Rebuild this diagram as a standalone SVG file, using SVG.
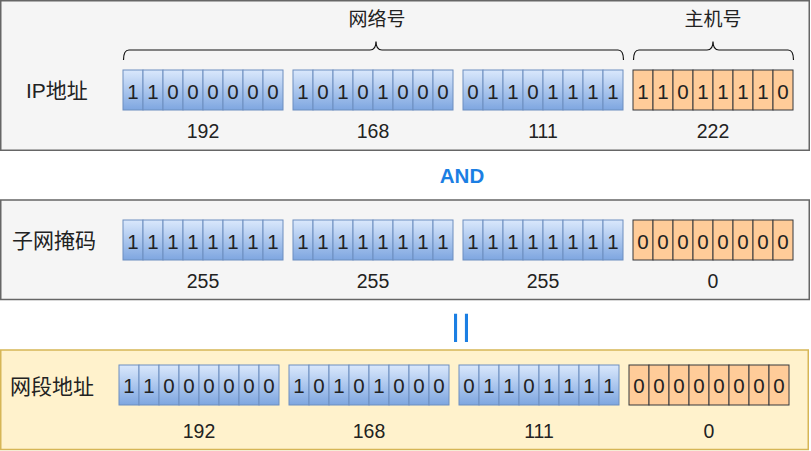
<svg xmlns="http://www.w3.org/2000/svg" width="811" height="451" viewBox="0 0 811 451">
<defs>
<linearGradient id="gb" x1="0" y1="0" x2="0" y2="1">
<stop offset="0" stop-color="#dae8fc"/>
<stop offset="1" stop-color="#7ea6e0"/>
</linearGradient>
<style>
.panel{fill:#f5f5f5;stroke:#666666;stroke-width:1.5}
.panelY{fill:#fff2cc;stroke:#d6b656;stroke-width:1.5}
.b rect{fill:url(#gb);stroke:#6c8ebf;stroke-width:1}
.o rect{fill:#ffcc99;stroke:#36393d;stroke-width:1}
.b text,.o text{font-family:"Liberation Sans",Arial,sans-serif;font-size:20.5px;fill:#222;text-anchor:middle}
.num{font-family:"Liberation Sans",Arial,sans-serif;font-size:19.5px;fill:#222;text-anchor:middle}
.lbl{font-family:"Liberation Sans","Noto Sans CJK SC",sans-serif;font-size:21px;fill:#222}
.cap{font-family:"Liberation Sans","Noto Sans CJK SC",sans-serif;font-size:19px;fill:#222;text-anchor:middle}
.op{font-family:"Liberation Sans",Arial,sans-serif;fill:#1b7fe3;text-anchor:middle}
.brace{fill:none;stroke:#111;stroke-width:1.2}
</style>
</defs>

<g id="panel-ip"><rect class="panel" x="0.75" y="0.75" width="808.5" height="149.5"/></g>
<g id="panel-mask"><rect class="panel" x="0.75" y="200" width="808.5" height="99.5"/></g>
<g id="panel-net"><rect class="panelY" x="0.75" y="350" width="807.5" height="99.5"/></g>

<g id="labels">
<text class="lbl" x="26" y="98">IP地址</text>
<text class="lbl" x="12" y="248">子网掩码</text>
<text class="lbl" x="10" y="394">网段地址</text>
<text class="cap" x="377" y="26">网络号</text>
<text class="cap" x="713" y="26">主机号</text>
</g>

<g id="braces">
<path class="brace" d="M123.5,60 Q123.5,50 129,50 H370 Q376,50 376,41.5 Q376,50 382,50 H618 Q623.5,50 623.5,60"/>
<path class="brace" d="M633.5,60 Q633.5,50 639,50 H707 Q713,50 713,41.5 Q713,50 719,50 H788 Q793.5,50 793.5,60"/>
</g>

<g id="ip-oct1" class="b" transform="translate(123,70)">
<rect x="0" width="20" height="40"/><rect x="20" width="20" height="40"/><rect x="40" width="20" height="40"/><rect x="60" width="20" height="40"/><rect x="80" width="20" height="40"/><rect x="100" width="20" height="40"/><rect x="120" width="20" height="40"/><rect x="140" width="20" height="40"/>
<text x="10" y="29">1</text><text x="30" y="29">1</text><text x="50" y="29">0</text><text x="70" y="29">0</text><text x="90" y="29">0</text><text x="110" y="29">0</text><text x="130" y="29">0</text><text x="150" y="29">0</text>
</g>
<g id="ip-oct2" class="b" transform="translate(293,70)">
<rect x="0" width="20" height="40"/><rect x="20" width="20" height="40"/><rect x="40" width="20" height="40"/><rect x="60" width="20" height="40"/><rect x="80" width="20" height="40"/><rect x="100" width="20" height="40"/><rect x="120" width="20" height="40"/><rect x="140" width="20" height="40"/>
<text x="10" y="29">1</text><text x="30" y="29">0</text><text x="50" y="29">1</text><text x="70" y="29">0</text><text x="90" y="29">1</text><text x="110" y="29">0</text><text x="130" y="29">0</text><text x="150" y="29">0</text>
</g>
<g id="ip-oct3" class="b" transform="translate(463,70)">
<rect x="0" width="20" height="40"/><rect x="20" width="20" height="40"/><rect x="40" width="20" height="40"/><rect x="60" width="20" height="40"/><rect x="80" width="20" height="40"/><rect x="100" width="20" height="40"/><rect x="120" width="20" height="40"/><rect x="140" width="20" height="40"/>
<text x="10" y="29">0</text><text x="30" y="29">1</text><text x="50" y="29">1</text><text x="70" y="29">0</text><text x="90" y="29">1</text><text x="110" y="29">1</text><text x="130" y="29">1</text><text x="150" y="29">1</text>
</g>
<g id="ip-oct4" class="o" transform="translate(633,70)">
<rect x="0" width="20" height="40"/><rect x="20" width="20" height="40"/><rect x="40" width="20" height="40"/><rect x="60" width="20" height="40"/><rect x="80" width="20" height="40"/><rect x="100" width="20" height="40"/><rect x="120" width="20" height="40"/><rect x="140" width="20" height="40"/>
<text x="10" y="29">1</text><text x="30" y="29">1</text><text x="50" y="29">0</text><text x="70" y="29">1</text><text x="90" y="29">1</text><text x="110" y="29">1</text><text x="130" y="29">1</text><text x="150" y="29">0</text>
</g>
<g id="ip-nums">
<text class="num" x="203" y="138">192</text><text class="num" x="373" y="138">168</text><text class="num" x="543" y="138">111</text><text class="num" x="713" y="138">222</text>
</g>

<g id="op-and"><text class="op" x="462" y="183" font-size="20.5" font-weight="bold">AND</text></g>

<g id="mask-oct1" class="b" transform="translate(123,220)">
<rect x="0" width="20" height="40"/><rect x="20" width="20" height="40"/><rect x="40" width="20" height="40"/><rect x="60" width="20" height="40"/><rect x="80" width="20" height="40"/><rect x="100" width="20" height="40"/><rect x="120" width="20" height="40"/><rect x="140" width="20" height="40"/>
<text x="10" y="29">1</text><text x="30" y="29">1</text><text x="50" y="29">1</text><text x="70" y="29">1</text><text x="90" y="29">1</text><text x="110" y="29">1</text><text x="130" y="29">1</text><text x="150" y="29">1</text>
</g>
<g id="mask-oct2" class="b" transform="translate(293,220)">
<rect x="0" width="20" height="40"/><rect x="20" width="20" height="40"/><rect x="40" width="20" height="40"/><rect x="60" width="20" height="40"/><rect x="80" width="20" height="40"/><rect x="100" width="20" height="40"/><rect x="120" width="20" height="40"/><rect x="140" width="20" height="40"/>
<text x="10" y="29">1</text><text x="30" y="29">1</text><text x="50" y="29">1</text><text x="70" y="29">1</text><text x="90" y="29">1</text><text x="110" y="29">1</text><text x="130" y="29">1</text><text x="150" y="29">1</text>
</g>
<g id="mask-oct3" class="b" transform="translate(463,220)">
<rect x="0" width="20" height="40"/><rect x="20" width="20" height="40"/><rect x="40" width="20" height="40"/><rect x="60" width="20" height="40"/><rect x="80" width="20" height="40"/><rect x="100" width="20" height="40"/><rect x="120" width="20" height="40"/><rect x="140" width="20" height="40"/>
<text x="10" y="29">1</text><text x="30" y="29">1</text><text x="50" y="29">1</text><text x="70" y="29">1</text><text x="90" y="29">1</text><text x="110" y="29">1</text><text x="130" y="29">1</text><text x="150" y="29">1</text>
</g>
<g id="mask-oct4" class="o" transform="translate(633,220)">
<rect x="0" width="20" height="40"/><rect x="20" width="20" height="40"/><rect x="40" width="20" height="40"/><rect x="60" width="20" height="40"/><rect x="80" width="20" height="40"/><rect x="100" width="20" height="40"/><rect x="120" width="20" height="40"/><rect x="140" width="20" height="40"/>
<text x="10" y="29">0</text><text x="30" y="29">0</text><text x="50" y="29">0</text><text x="70" y="29">0</text><text x="90" y="29">0</text><text x="110" y="29">0</text><text x="130" y="29">0</text><text x="150" y="29">0</text>
</g>
<g id="mask-nums">
<text class="num" x="203" y="288">255</text><text class="num" x="373" y="288">255</text><text class="num" x="543" y="288">255</text><text class="num" x="713" y="288">0</text>
</g>

<g id="op-eq"><text class="op" x="0" y="0" font-size="40" transform="translate(462,328) rotate(90) scale(1.45,1.05) translate(0,14)">=</text></g>

<g id="net-oct1" class="b" transform="translate(119,365)">
<rect x="0" width="20" height="40"/><rect x="20" width="20" height="40"/><rect x="40" width="20" height="40"/><rect x="60" width="20" height="40"/><rect x="80" width="20" height="40"/><rect x="100" width="20" height="40"/><rect x="120" width="20" height="40"/><rect x="140" width="20" height="40"/>
<text x="10" y="28">1</text><text x="30" y="28">1</text><text x="50" y="28">0</text><text x="70" y="28">0</text><text x="90" y="28">0</text><text x="110" y="28">0</text><text x="130" y="28">0</text><text x="150" y="28">0</text>
</g>
<g id="net-oct2" class="b" transform="translate(289,365)">
<rect x="0" width="20" height="40"/><rect x="20" width="20" height="40"/><rect x="40" width="20" height="40"/><rect x="60" width="20" height="40"/><rect x="80" width="20" height="40"/><rect x="100" width="20" height="40"/><rect x="120" width="20" height="40"/><rect x="140" width="20" height="40"/>
<text x="10" y="28">1</text><text x="30" y="28">0</text><text x="50" y="28">1</text><text x="70" y="28">0</text><text x="90" y="28">1</text><text x="110" y="28">0</text><text x="130" y="28">0</text><text x="150" y="28">0</text>
</g>
<g id="net-oct3" class="b" transform="translate(459,365)">
<rect x="0" width="20" height="40"/><rect x="20" width="20" height="40"/><rect x="40" width="20" height="40"/><rect x="60" width="20" height="40"/><rect x="80" width="20" height="40"/><rect x="100" width="20" height="40"/><rect x="120" width="20" height="40"/><rect x="140" width="20" height="40"/>
<text x="10" y="28">0</text><text x="30" y="28">1</text><text x="50" y="28">1</text><text x="70" y="28">0</text><text x="90" y="28">1</text><text x="110" y="28">1</text><text x="130" y="28">1</text><text x="150" y="28">1</text>
</g>
<g id="net-oct4" class="o" transform="translate(629,365)">
<rect x="0" width="20" height="40"/><rect x="20" width="20" height="40"/><rect x="40" width="20" height="40"/><rect x="60" width="20" height="40"/><rect x="80" width="20" height="40"/><rect x="100" width="20" height="40"/><rect x="120" width="20" height="40"/><rect x="140" width="20" height="40"/>
<text x="10" y="28">0</text><text x="30" y="28">0</text><text x="50" y="28">0</text><text x="70" y="28">0</text><text x="90" y="28">0</text><text x="110" y="28">0</text><text x="130" y="28">0</text><text x="150" y="28">0</text>
</g>
<g id="net-nums">
<text class="num" x="199" y="438">192</text><text class="num" x="369" y="438">168</text><text class="num" x="539" y="438">111</text><text class="num" x="709" y="438">0</text>
</g>
</svg>
